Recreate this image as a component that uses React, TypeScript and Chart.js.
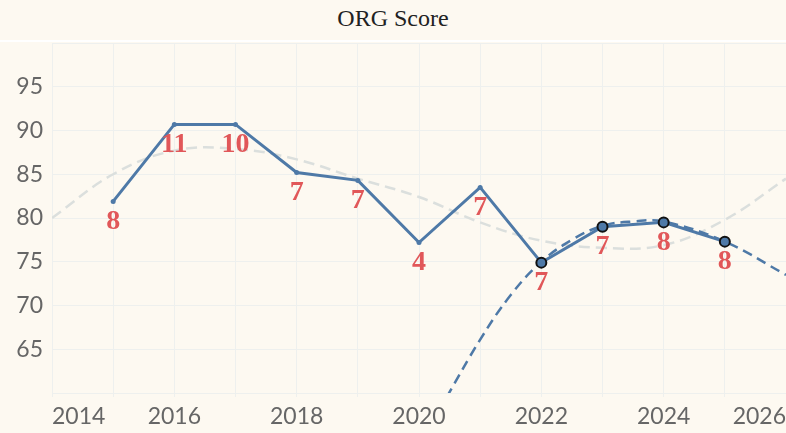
import { useEffect, useRef } from 'react';
import { Chart, registerables } from 'chart.js';

Chart.register(...registerables);

// ORG score per year, with the number of responses shown under each point
const years = [2015, 2016, 2017, 2018, 2019, 2020, 2021, 2022, 2023, 2024, 2025];
const scores = [81.9, 90.7, 90.7, 85.2, 84.3, 77.2, 83.5, 74.9, 79.0, 79.5, 77.3];
const counts = [8, 11, 10, 7, 7, 4, 7, 7, 7, 8, 8];

// long-run trend (grey dashed)
const trendYears = [2014, 2015, 2016, 2017, 2018, 2019, 2020, 2021, 2022, 2023, 2024, 2025, 2026];
const trendValues = [80.0, 85.0, 87.7, 87.9, 86.7, 84.5, 82.4, 79.5, 77.4, 76.6, 76.9, 79.8, 84.5];

// recent trend (blue dashed)
const recentYears = [2020.45, 2021, 2021.5, 2022, 2022.5, 2023, 2023.5, 2024, 2025, 2026];
const recentValues = [59.5, 66.1, 71.2, 75.0, 77.5, 79.1, 79.6, 79.6, 77.3, 73.5];

const BLUE = '#4e79a7';
const RED = '#e15759';
const BG = '#fdf9f1';

const countLabels = {
  id: 'countLabels',
  afterDatasetsDraw(chart: Chart) {
    const meta = chart.getDatasetMeta(0);
    const ctx = chart.ctx;
    ctx.save();
    ctx.font = 'bold 28px "Liberation Serif", "Times New Roman", serif';
    ctx.fillStyle = RED;
    ctx.textAlign = 'center';
    ctx.textBaseline = 'middle';
    meta.data.forEach((pt, i) => {
      ctx.fillText(String(counts[i]), pt.x, pt.y + 20);
    });
    ctx.restore();
  },
};

const OrgScoreChart = () => {
  const chartRef = useRef<HTMLCanvasElement | null>(null);
  const chartInstance = useRef<Chart | null>(null);

  useEffect(() => {
    if (!chartRef.current) return;

    if (chartInstance.current) {
      chartInstance.current.destroy();
    }

    chartInstance.current = new Chart(chartRef.current, {
      type: 'line',
      data: {
        datasets: [
          {
            data: years.map((y, i) => ({ x: y, y: scores[i] })),
            borderColor: BLUE,
            backgroundColor: BLUE,
            borderWidth: 3,
            pointRadius: ctx => (ctx.dataIndex >= 7 ? 5 : 2.5),
            pointBorderWidth: ctx => (ctx.dataIndex >= 7 ? 2 : 0),
            pointBorderColor: '#111',
            pointBackgroundColor: BLUE,
            tension: 0,
            order: 0,
          },
          {
            data: recentYears.map((y, i) => ({ x: y, y: recentValues[i] })),
            borderColor: BLUE,
            borderWidth: 2.5,
            borderDash: [10, 6],
            pointRadius: 0,
            tension: 0.4,
            order: 1,
          },
          {
            data: trendYears.map((y, i) => ({ x: y, y: trendValues[i] })),
            borderColor: '#dbdfdd',
            borderWidth: 2.5,
            borderDash: [11, 6],
            pointRadius: 0,
            tension: 0.4,
            order: 2,
          },
        ],
      },
      options: {
        responsive: false,
        animation: false,
        layout: { autoPadding: false, padding: { top: 1, right: 0, left: 0, bottom: 0 } },
        plugins: {
          legend: { display: false },
          tooltip: { enabled: false },
        },
        scales: {
          x: {
            type: 'linear',
            min: 2014,
            max: 2026,
            afterFit: scale => {
              scale.height = 40;
              scale.paddingLeft = 0;
              scale.paddingRight = 0;
            },
            grid: { color: '#eef0ee', tickLength: 4 },
            border: { display: false },
            ticks: {
              stepSize: 1,
              autoSkip: false,
              maxRotation: 0,
              align: 'inner',
              padding: 6,
              color: '#666',
              font: { family: 'Lato', size: 23 },
              callback: v => (Number(v) % 2 === 0 ? String(v) : ''),
            },
          },
          y: {
            min: 60,
            max: 100,
            afterFit: scale => {
              scale.width = 52;
              scale.paddingTop = 0;
              scale.paddingBottom = 0;
            },
            grid: { color: '#eef0ee', drawTicks: false },
            border: { display: false },
            ticks: {
              stepSize: 5,
              padding: 9,
              color: '#666',
              font: { family: 'Lato', size: 23 },
              callback: v => (Number(v) === 60 || Number(v) === 100 ? '' : String(v)),
            },
          },
        },
      },
      plugins: [countLabels],
    });

    return () => {
      if (chartInstance.current) {
        chartInstance.current.destroy();
      }
    };
  }, []);

  return (
    <div
      style={{
        position: 'fixed',
        left: 0,
        top: 0,
        width: 786,
        height: 433,
        background: BG,
        overflow: 'hidden',
      }}
    >
      <div
        style={{
          height: 42,
          lineHeight: '36px',
          textAlign: 'center',
          fontFamily: '"Liberation Serif", "Times New Roman", serif',
          fontSize: 24,
          color: '#222',
          borderBottom: '2px solid #ffffff',
          boxSizing: 'border-box',
        }}
      >
        ORG Score
      </div>
      <canvas ref={chartRef} width={786} height={391} style={{ display: 'block' }} />
    </div>
  );
};

export default function App() {
  return <OrgScoreChart />;
}
